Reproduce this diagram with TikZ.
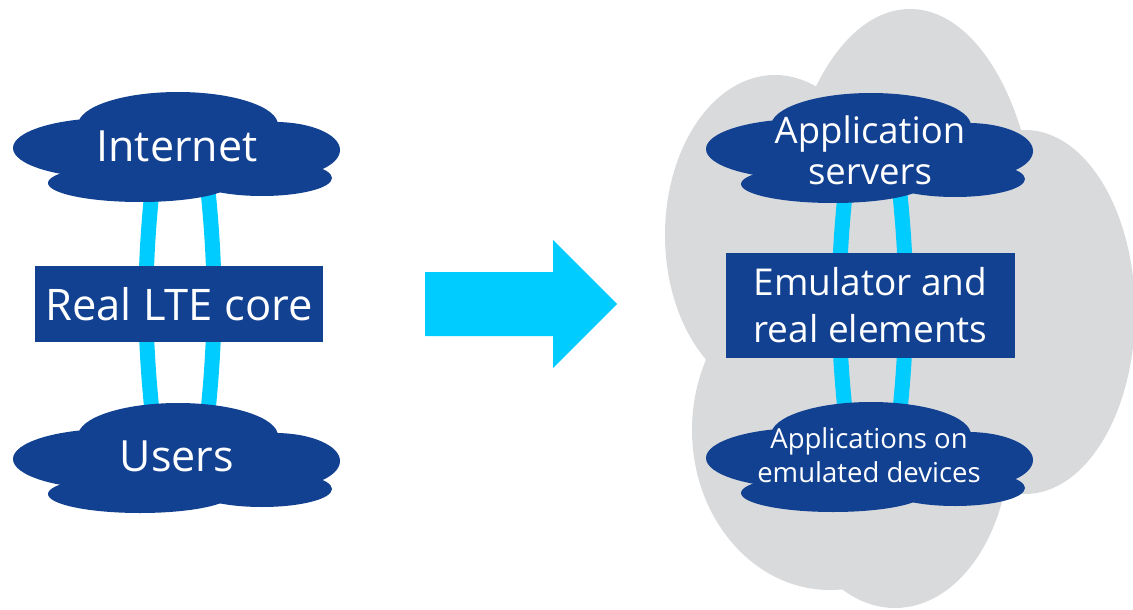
\documentclass[tikz,border=0pt]{standalone}
\usepackage{fontspec}
\setmainfont{Open Sans}
\usetikzlibrary{calc}

\definecolor{nblue}{HTML}{124191}
\definecolor{ncyan}{HTML}{00CCFF}
\definecolor{ngray}{HTML}{D9DADC}

\pgfdeclarelayer{haze}
\pgfdeclarelayer{links}
\pgfdeclarelayer{clouds}
\pgfsetlayers{haze,links,clouds,main}

\tikzset{
  link/.style={draw=ncyan, line width=15pt},
  cloudtext/.style={text=white, align=center, inner sep=0pt},
  corebox/.style={fill=nblue, text=white, align=center, inner sep=0pt},
}

% A dark blue cloud built from overlapping ellipses, centred on #1
\newcommand\bluecloud[1]{%
  \begin{pgfonlayer}{clouds}
  \begin{scope}[shift={(#1)}]
    \fill[nblue] (2,-23)  ellipse [x radius=100pt, y radius=33pt];
    \fill[nblue] (-66,0)  ellipse [x radius=97pt,  y radius=30pt];
    \fill[nblue] (99,2)   ellipse [x radius=65pt,  y radius=28pt];
    \fill[nblue] (-36,35) ellipse [x radius=92pt,  y radius=19pt];
    \fill[nblue] (86,30)  ellipse [x radius=70pt,  y radius=18pt];
    \fill[nblue] (0,2)    ellipse [x radius=140pt, y radius=30pt];
  \end{scope}
  \end{pgfonlayer}}

\begin{document}
\begin{tikzpicture}[x=1pt, y=-1pt]
  \useasboundingbox (0,0) rectangle (1133,610);

  % ---------- left: today's setup ----------
  \node[cloudtext, font=\fontsize{43}{48}\selectfont] (inet) at (177,146) {Internet};
  \node[cloudtext, font=\fontsize{43}{48}\selectfont] (users) at (177,456) {Users};
  \node[corebox, minimum width=288pt, minimum height=76pt,
        font=\fontsize{43.5}{48}\selectfont] (core) at (179,304) {Real LTE core};
  \bluecloud{176,148}
  \bluecloud{176,459}
  \begin{pgfonlayer}{links}
    \draw[link] ([xshift=-20pt]inet.center) to[bend right=7] ([xshift=-20pt]users.center);
    \draw[link] ([xshift=26pt]inet.center) to[bend left=7] ([xshift=26pt]users.center);
  \end{pgfonlayer}

  % ---------- big arrow ----------
  \fill[ncyan] (425,272) -- (553,272) -- (553,240) -- (617,304) -- (553,368)
               -- (553,336) -- (425,336) -- cycle;

  % ---------- right: emulated environment ----------
  \begin{pgfonlayer}{haze}
    \fill[ngray] (910,250) ellipse [x radius=128pt, y radius=241pt];
    \fill[ngray] (775,235) ellipse [x radius=110pt, y radius=160pt];
    \fill[ngray] (1025,312) ellipse [x radius=110pt, y radius=182pt];
    \fill[ngray] (830,430) ellipse [x radius=138pt, y radius=160pt];
    \fill[ngray] (895,440) ellipse [x radius=115pt, y radius=168pt];
    \fill[ngray] (900,320) ellipse [x radius=170pt, y radius=205pt];
  \end{pgfonlayer}

  \node[cloudtext, font=\fontsize{36.5}{41}\selectfont] (srv) at (870,150)
       {Application\\servers};
  \node[cloudtext, font=\fontsize{27.5}{34}\selectfont] (apps) at (869,455)
       {Applications on\\emulated devices};
  \node[corebox, minimum width=289pt, minimum height=105pt,
        font=\fontsize{37}{47}\selectfont] (emu) at (870.5,305.5)
       {Emulator and\\real elements};
  \bluecloud{869,149}
  \bluecloud{869,458}
  \begin{pgfonlayer}{links}
    \draw[link] ([xshift=-20pt]srv.center) to[bend right=7] ([xshift=-19pt]apps.center);
    \draw[link] ([xshift=25pt]srv.center) to[bend left=7] ([xshift=26pt]apps.center);
  \end{pgfonlayer}
\end{tikzpicture}
\end{document}
